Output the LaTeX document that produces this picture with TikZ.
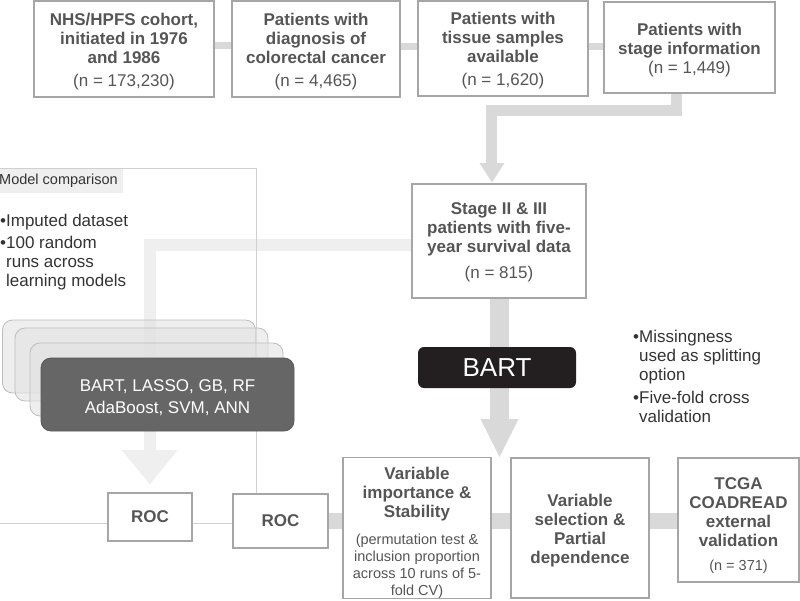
\documentclass[tikz,border=0pt]{standalone}
\usepackage{fontspec}
\setmainfont{Liberation Sans}
\usetikzlibrary{calc}
\pgfdeclarelayer{background}
\pgfsetlayers{background,main}
\definecolor{txt}{HTML}{555555}
\definecolor{bord}{HTML}{A6A6A6}
\definecolor{barc}{HTML}{D9D9D9}
\definecolor{lbarc}{HTML}{EFEFEF}
\definecolor{framec}{HTML}{D0D0D0}
\definecolor{bartc}{HTML}{231F20}
\definecolor{modc}{HTML}{666666}
\definecolor{bultxt}{HTML}{333333}
\definecolor{labfill}{HTML}{EFEFEF}
\definecolor{stackfill}{HTML}{E2E2E2}
\definecolor{stackbord}{HTML}{BDBDBD}
\newcommand\nnline[1]{{\mdseries #1}}
\newcommand\pnline[1]{{\mdseries\fontsize{14.5}{17}\selectfont #1}}
\newcommand\tstrut[1]{\rule{0pt}{#1}}
\begin{document}
\begin{tikzpicture}[x=1pt,y=-1pt,
  box/.style={draw=bord, line width=1.2pt, fill=white, inner sep=0pt, align=center, text=txt,
    font=\fontsize{17}{19}\selectfont\bfseries},
  stackbox/.style={draw=stackbord, line width=0.8pt, fill=stackfill, fill opacity=0.6, rounded corners=10pt,
    minimum width=253pt, minimum height=73pt, inner sep=0pt},
  bullets/.style={anchor=north west, inner sep=0pt, align=left, text=bultxt, font=\fontsize{17}{19}\selectfont},
  topbar/.style={draw=barc, line width=7pt},
  botbar/.style={draw=barc, line width=16pt},
  thinl/.style={draw=framec, line width=0.8pt},
]
\useasboundingbox (0,0) rectangle (800,600);

% top row
\node[box, minimum width=180pt, minimum height=96pt] (b1) at (124,49)
  {\tstrut{18.5pt}NHS/HPFS cohort,\\initiated in 1976\\and 1986\\[4pt]\nnline{(n = 173,230)}};
\node[box, minimum width=168pt, minimum height=96pt] (b2) at (316,49)
  {\tstrut{18.5pt}Patients with\\diagnosis of\\colorectal cancer\\[4pt]\nnline{(n = 4,465)}};
\node[box, minimum width=170pt, minimum height=95pt] (b3) at (503,48.5)
  {\tstrut{17.5pt}Patients with\\tissue samples\\available\\[4pt]\nnline{(n = 1,620)}};
\node[box, minimum width=171pt, minimum height=91pt] (b4) at (689.5,47.5)
  {\tstrut{18pt}Patients with\\stage information\\\nnline{(n = 1,449)}};

% stage II & III
\node[box, minimum width=174pt, minimum height=114pt] (b5) at (499,241)
  {\tstrut{15.5pt}Stage II \& III\\patients with five-\\year survival data\\[7pt]\nnline{(n = 815)}};

% BART
\node[fill=bartc, rounded corners=6pt, minimum width=158pt, minimum height=41pt, inner sep=0pt,
  text=white, font=\fontsize{26}{28}\selectfont] (bart) at (497,367.5) {BART};

% model comparison stacks
\node[stackbox] (m1) at (129,356.5) {};
\node[stackbox] (m2) at (141.5,364.5) {};
\node[stackbox] (m3) at (156.5,379.5) {};
\node[fill=modc, draw=modc!85!black, line width=0.8pt, rounded corners=10pt, minimum width=253pt, minimum height=73pt,
  inner sep=0pt, align=center, text=white, font=\fontsize{17}{19}\selectfont] (models) at (167.5,394.5)
  {\tstrut{18.5pt}BART, LASSO, GB, RF\\[3pt]AdaBoost, SVM, ANN};

% ROC boxes
\node[box, minimum width=84pt, minimum height=48pt] (roc1) at (150,517) {ROC};
\node[box, minimum width=95pt, minimum height=54pt] (roc2) at (280.5,521) {ROC};

% bottom row
\node[box, minimum width=148pt, minimum height=140pt] (vi) at (417,528)
  {\tstrut{22.5pt}Variable\\importance \&\\Stability\\[8pt]\pnline{(permutation test \&}\\[-2pt]\pnline{inclusion proportion}\\[-2pt]\pnline{across 10 runs of 5-}\\[-2pt]\pnline{fold CV)}};
\node[box, minimum width=138pt, minimum height=140pt] (vs) at (580,528)
  {\tstrut{18.5pt}Variable\\selection \&\\Partial\\dependence};
\node[box, minimum width=121pt, minimum height=124pt] (tc) at (738.5,520)
  {\tstrut{22.5pt}TCGA\\COADREAD\\external\\validation\\[5pt]\pnline{(n = 371)}};

% texts
\fill[labfill] (0,169) rectangle (123,193);
\node[anchor=west, inner sep=0pt, text=bultxt, font=\fontsize{14.5}{16}\selectfont] (mclab) at (-1,181) {Model comparison};
\node[bullets] (lbul) at (0,213.6)
  {•Imputed dataset\\[3pt]•100 random\\\hphantom{•}runs across\\\hphantom{•}learning models};
\node[bullets] (rbul) at (633,329.8)
  {•Missingness\\\hphantom{•}used as splitting\\\hphantom{•}option\\[4pt]•Five-fold cross\\\hphantom{•}validation};

\coordinate (tipB) at (499.5,457);
\coordinate (cb) at (0,521);
\coordinate (cl) at (0,523);
\coordinate (c12) at ([yshift=3.5pt]b1.east);
\coordinate (c23) at ([yshift=3pt]b2.east);
\coordinate (c34) at ([yshift=2.5pt]b3.east);

\begin{pgfonlayer}{background}
  % light bar to ROC
  \draw[draw=lbarc, line width=12pt, line join=miter] ([yshift=-4pt]b5.west) -| (149.5,450.5);
  \fill[lbarc] (121.5,450) -- (177.5,450) -- ([yshift=8pt]roc1.north) -- cycle;
  % frame
  \draw[thinl] (0,168) -- (256,168) -- (256,494);
  \draw[thinl] (cl) -- (cl -| roc1.west);
  \draw[thinl] (roc1.east |- cl) -- (roc2.west |- cl);
  % top bars
  \draw[topbar] (c12) -- (c12 -| b2.west);
  \draw[topbar] (c23) -- (c23 -| b3.west);
  \draw[topbar] (c34) -- (c34 -| b4.west);
  % b4 -> b5
  \draw[draw=barc, line width=11pt, line join=miter] ([xshift=-13pt]b4.south) |- (491.5,110.5) -- (491.5,163.5);
  \fill[barc] (479.5,163) -- (504.5,163) -- ([xshift=-7pt,yshift=1pt]b5.north) -- cycle;
  % b5 -> BART -> bottom
  \draw[draw=barc, line width=19pt] ([xshift=0.5pt]b5.south) -- (499.5,419.5);
  \fill[barc] (480.5,419) -- (518.5,419) -- (tipB) -- cycle;
  % bottom bars
  \draw[botbar] (roc2.east |- cb) -- (vi.west |- cb);
  \draw[botbar] (vi.east |- cb) -- (vs.west |- cb);
  \draw[botbar] (vs.east |- cb) -- (tc.west |- cb);
\end{pgfonlayer}
\end{tikzpicture}
\end{document}
